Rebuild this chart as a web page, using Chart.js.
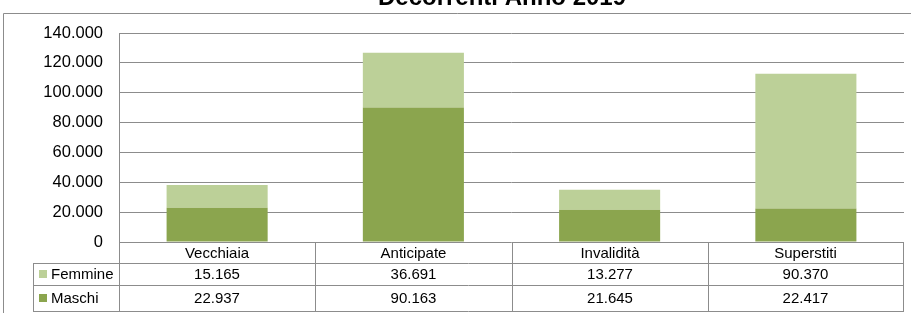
<!DOCTYPE html>
<html>
<head>
<meta charset="utf-8">
<script src="https://cdn.jsdelivr.net/npm/chart.js@4.4.1/dist/chart.umd.min.js"></script>
<style>
html,body{margin:0;padding:0;background:#fff;}
#wrap{position:relative;width:911px;height:313px;}
</style>
</head>
<body>
<div id="wrap"><canvas id="c" width="911" height="313"></canvas></div>
<script>
const categories = ['Vecchiaia', 'Anticipate', 'Invalidità', 'Superstiti'];
const femmine = [15165, 36691, 13277, 90370];
const maschi = [22937, 90163, 21645, 22417];
const yTicks = [0, 20000, 40000, 60000, 80000, 100000, 120000, 140000];
const titleText = 'Decorrenti Anno 2019';

const FONT = '"Liberation Sans", Arial, sans-serif';
const LINE = '#8c8c8c';
const COL_F = '#bcd098';
const COL_M = '#8ba54e';

function fmt(v) {
  return String(v).replace(/\B(?=(\d{3})+(?!\d))/g, '.');
}

const framePlugin = {
  id: 'frame',
  beforeDraw(chart) {
    const ctx = chart.ctx;
    ctx.save();
    ctx.fillStyle = '#fff';
    ctx.fillRect(0, 0, chart.width, chart.height);
    ctx.strokeStyle = LINE;
    ctx.lineWidth = 1;
    ctx.beginPath();
    ctx.moveTo(3.5, chart.height + 5);
    ctx.lineTo(3.5, 13.5);
    ctx.lineTo(chart.width + 5, 13.5);
    ctx.stroke();
    ctx.fillStyle = '#000';
    ctx.font = 'bold 24px ' + FONT;
    ctx.textAlign = 'center';
    ctx.textBaseline = 'alphabetic';
    ctx.fillText(titleText, 502, 5);
    ctx.restore();
  }
};

const tablePlugin = {
  id: 'dataTable',
  afterDraw(chart) {
    const ctx = chart.ctx;
    const area = chart.chartArea;
    const xs = chart.scales.x;
    const left = Math.round(area.left);
    const right = Math.round(area.right) - 1;
    const rows = [Math.round(area.bottom), 263, 285, 311];
    const legendLeft = 33;
    const bounds = [left];
    for (let i = 1; i < categories.length; i++) {
      bounds.push(Math.round((xs.getPixelForValue(i - 1) + xs.getPixelForValue(i)) / 2));
    }
    bounds.push(right);
    ctx.save();
    ctx.strokeStyle = LINE;
    ctx.lineWidth = 1;
    ctx.beginPath();
    // y axis line extended through table
    ctx.moveTo(left + 0.5, Math.round(area.top));
    ctx.lineTo(left + 0.5, rows[3] + 0.5);
    // column lines
    for (let i = 1; i < bounds.length; i++) {
      ctx.moveTo(bounds[i] + 0.5, rows[0]);
      ctx.lineTo(bounds[i] + 0.5, rows[3] + 0.5);
    }
    // legend column left
    ctx.moveTo(legendLeft + 0.5, rows[1]);
    ctx.lineTo(legendLeft + 0.5, rows[3] + 0.5);
    // horizontal row lines
    for (let r = 1; r < rows.length; r++) {
      ctx.moveTo(legendLeft, rows[r] + 0.5);
      ctx.lineTo(right + 1, rows[r] + 0.5);
    }
    ctx.stroke();

    ctx.fillStyle = '#000';
    ctx.font = '15px ' + FONT;
    ctx.textAlign = 'center';
    ctx.textBaseline = 'middle';
    const rowMid = r => (rows[r] + rows[r + 1]) / 2 + 1;
    categories.forEach((c, i) => {
      const cx = (bounds[i] + bounds[i + 1]) / 2;
      ctx.fillText(c, cx, rowMid(0));
      ctx.fillText(fmt(femmine[i]), cx, rowMid(1));
      ctx.fillText(fmt(maschi[i]), cx, rowMid(2));
    });
    // legend keys
    const keys = [['Femmine', COL_F], ['Maschi', COL_M]];
    keys.forEach((k, j) => {
      const my = rowMid(j + 1);
      ctx.fillStyle = k[1];
      ctx.fillRect(39, Math.round(my - 5), 8, 8);
      ctx.fillStyle = '#000';
      ctx.textAlign = 'left';
      ctx.fillText(k[0], 51, my);
    });
    ctx.restore();
  }
};

new Chart(document.getElementById('c'), {
  type: 'bar',
  data: {
    labels: categories,
    datasets: [
      { label: 'Maschi', data: maschi, backgroundColor: COL_M, borderWidth: 0 },
      { label: 'Femmine', data: femmine, backgroundColor: COL_F, borderWidth: 0 }
    ]
  },
  options: {
    responsive: false,
    animation: false,
    devicePixelRatio: 1,
    layout: { padding: { top: 33, bottom: 71, left: 0, right: 7 } },
    plugins: {
      legend: { display: false },
      title: { display: false },
      tooltip: { enabled: false }
    },
    datasets: { bar: { categoryPercentage: 1, barPercentage: 0.515 } },
    scales: {
      x: {
        stacked: true,
        display: false
      },
      y: {
        stacked: true,
        min: 0,
        max: 140000,
        afterBuildTicks(scale) {
          scale.ticks = yTicks.map(v => ({ value: v }));
        },
        afterFit(scale) { scale.width = 119; },
        border: { display: false },
        grid: { color: LINE, lineWidth: 1, drawTicks: false },
        ticks: {
          padding: 16,
          color: '#000',
          font: { family: FONT, size: 16.5 },
          callback: v => fmt(v)
        }
      }
    }
  },
  plugins: [framePlugin, tablePlugin]
});
</script>
</body>
</html>
